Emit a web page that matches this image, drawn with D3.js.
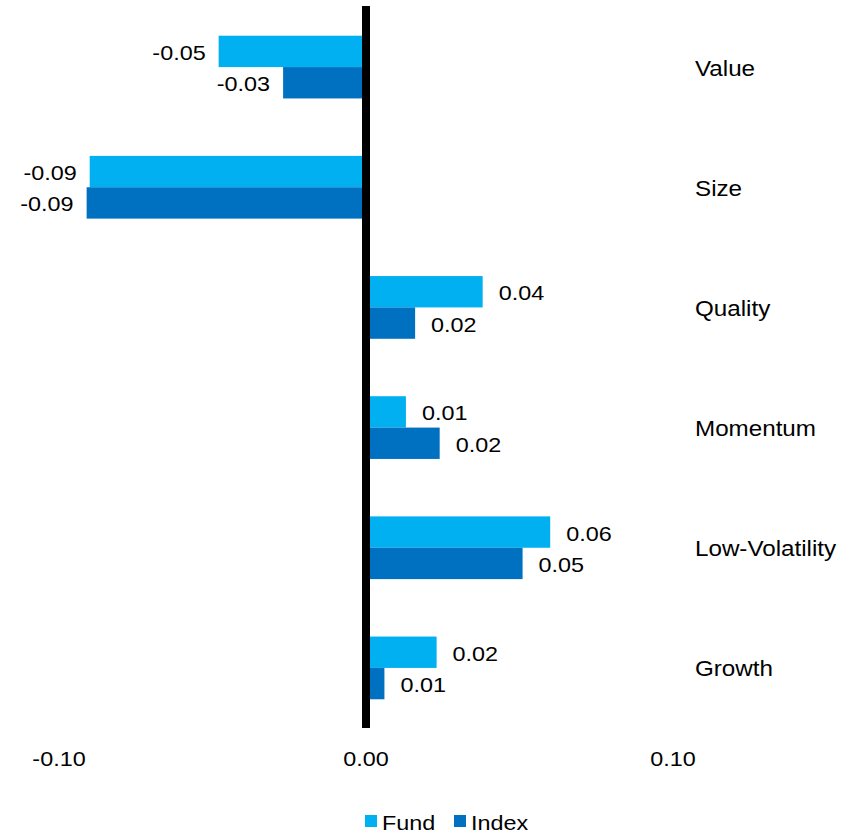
<!DOCTYPE html>
<html>
<head>
<meta charset="utf-8">
<script src="https://cdn.jsdelivr.net/npm/d3@7"></script>
<style>
  html, body { margin: 0; padding: 0; background: #fff; }
  svg { display: block; font-family: "Liberation Sans", Arial, sans-serif; }
</style>
</head>
<body>
<svg id="chart" width="846" height="837"></svg>
<script>
// Factor exposures, fund vs. index
const categories = ["Value", "Size", "Quality", "Momentum", "Low-Volatility", "Growth"];
const fundValues = [-0.048, -0.090, 0.038, 0.013, 0.060, 0.023];
const indexValues = [-0.027, -0.091, 0.016, 0.024, 0.051, 0.006];
const seriesNames = ["Fund", "Index"];
const seriesColors = ["#00B0F0", "#0070C0"];
const xTicks = [-0.10, 0.00, 0.10];

const svg = d3.select("#chart");

const x = d3.scaleLinear().domain([-0.1, 0.1]).range([59, 673]);
const y = d3.scaleBand().domain(categories).range([7, 728])
  .paddingInner(0.478).paddingOuter(0.239);
const ySub = d3.scaleBand().domain(seriesNames).range([0, y.bandwidth()]);

// plain hyphen for negative numbers
const fmt = d3.formatLocale({
  decimal: ".", thousands: ",", grouping: [3], currency: ["", ""], minus: "-"
}).format(".2f");
const seriesData = [fundValues, indexValues];

// text with a slight horizontal stretch
function label(g, txt, px, py, anchor, size, sx) {
  return g.append("text")
    .attr("transform", `translate(${px},${py}) scale(${sx},1)`)
    .attr("text-anchor", anchor)
    .attr("font-size", size)
    .attr("fill", "#000")
    .text(txt);
}

const bars = svg.append("g");
const labels = svg.append("g");

categories.forEach((c, i) => {
  seriesNames.forEach((s, j) => {
    const v = seriesData[j][i];
    const y0 = y(c) + ySub(s);
    bars.append("rect")
      .attr("x", Math.min(x(0), x(v)))
      .attr("y", y0)
      .attr("width", Math.abs(x(v) - x(0)))
      .attr("height", ySub.bandwidth())
      .attr("fill", seriesColors[j]);
    const cy = y0 + ySub.bandwidth() / 2 + 8.5;
    if (v < 0) label(labels, fmt(v), x(v) - 13, cy, "end", 20, 1.17);
    else label(labels, fmt(v), x(v) + 16, cy, "start", 20, 1.17);
  });
  // category name on the right
  label(labels, c, 695, y(c) + y.bandwidth() / 2 + 8.5, "start", 22, 1.1);
});

// zero line
svg.append("line")
  .attr("x1", x(0)).attr("x2", x(0))
  .attr("y1", 6).attr("y2", 728)
  .attr("stroke", "#000").attr("stroke-width", 8);

// x tick labels
const axisG = svg.append("g");
xTicks.forEach(t => label(axisG, fmt(t), x(t), 766, "middle", 20, 1.17));

// legend
const legend = svg.append("g");
const legendX = [365, 454];
seriesNames.forEach((s, j) => {
  legend.append("rect")
    .attr("x", legendX[j]).attr("y", 815)
    .attr("width", 12).attr("height", 12)
    .attr("fill", seriesColors[j]);
  label(legend, s, legendX[j] + 17, 830, "start", 20, 1.17);
});
</script>
</body>
</html>
